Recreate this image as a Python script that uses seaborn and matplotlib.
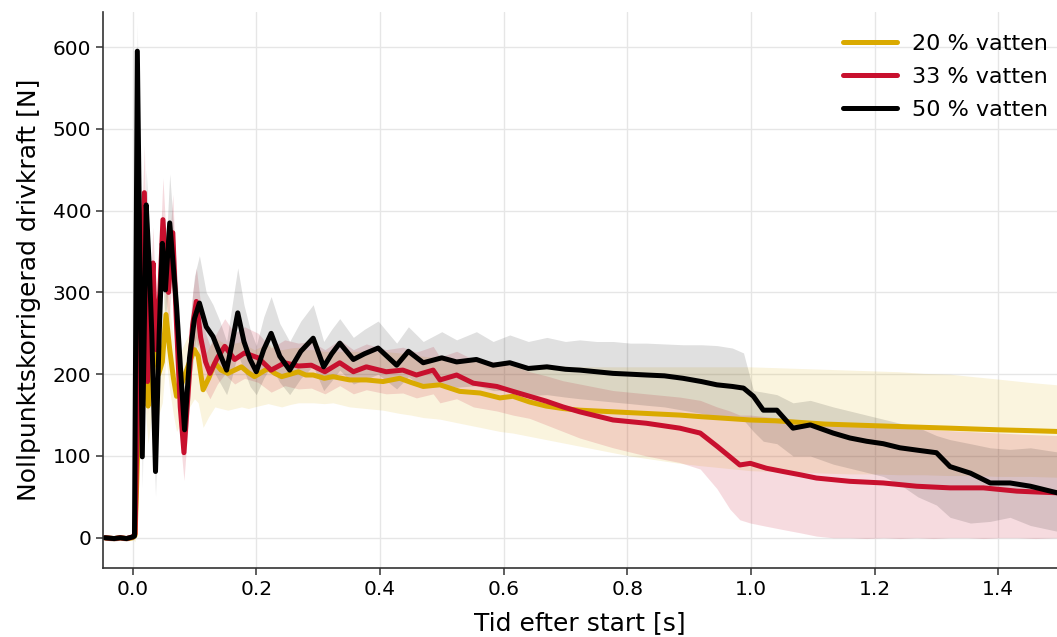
import numpy as np
import pandas as pd
import matplotlib
matplotlib.use("Agg")
import matplotlib.pyplot as plt
import seaborn as sns

# ---- data (time [s], force [N], band low/high) ----
tid_50 = [-0.045, -0.03, -0.02, -0.01, 0.0, 0.003, 0.0076, 0.0156, 0.022, 0.027, 0.031, 0.037,
          0.043, 0.048, 0.053, 0.060, 0.066, 0.071, 0.078, 0.084, 0.092, 0.100, 0.108, 0.119,
          0.130, 0.141, 0.152, 0.160, 0.170, 0.180, 0.190, 0.200, 0.212, 0.224, 0.238, 0.254,
          0.272, 0.292, 0.309, 0.322, 0.335, 0.357, 0.375, 0.397, 0.427, 0.446, 0.470, 0.500,
          0.524, 0.556, 0.583, 0.610, 0.640, 0.670, 0.700, 0.723, 0.750, 0.777, 0.805, 0.831,
          0.860, 0.890, 0.920, 0.945, 0.970, 0.988, 1.004, 1.020, 1.042, 1.068, 1.096, 1.133,
          1.160, 1.187, 1.214, 1.241, 1.270, 1.300, 1.322, 1.355, 1.387, 1.419, 1.452, 1.495]
kraft_50 = [0, -1, 0, -1, 1, 2, 595, 99, 407, 330, 250, 81,
            250, 360, 303, 385, 330, 283, 200, 132, 220, 268, 287, 258,
            246, 225, 205, 235, 275, 240, 218, 203, 230, 250, 222, 205,
            228, 244, 209, 225, 238, 218, 225, 232, 211, 228, 214, 220,
            215, 218, 211, 214, 207, 209, 206, 205, 203, 201, 200, 199,
            198, 195, 191, 187, 185, 183, 173, 156, 156, 134, 138, 128,
            122, 118, 115, 110, 107, 104, 87, 79, 67, 67, 63, 55]
lo_50 = [-3, -4, -3, -4, -2, -1, 560, 60, 360, 290, 210, 50,
         210, 320, 265, 330, 290, 245, 165, 100, 185, 225, 240, 215,
         205, 190, 175, 195, 225, 205, 185, 175, 195, 210, 190, 175,
         195, 210, 180, 192, 205, 188, 193, 200, 182, 197, 184, 188,
         184, 186, 180, 180, 174, 175, 172, 170, 168, 166, 164, 162,
         160, 156, 152, 148, 146, 144, 130, 118, 115, 100, 100, 90,
         85, 80, 75, 65, 50, 40, 25, 18, 20, 25, 15, 8]
hi_50 = [3, 2, 3, 2, 4, 6, 630, 140, 450, 370, 290, 115,
         290, 400, 340, 445, 380, 330, 240, 170, 260, 320, 345, 300,
         285, 265, 240, 280, 330, 285, 255, 235, 270, 295, 262, 240,
         265, 285, 240, 255, 268, 245, 255, 265, 238, 258, 240, 252,
         242, 252, 240, 248, 240, 245, 240, 242, 240, 240, 238, 238,
         237, 236, 236, 235, 232, 226, 180, 178, 175, 165, 168, 160,
         155, 150, 145, 140, 135, 125, 120, 115, 110, 108, 110, 105]

tid_33 = [-0.045, -0.03, -0.02, -0.01, 0.0, 0.004, 0.010, 0.019, 0.024, 0.029, 0.033, 0.038,
          0.044, 0.049, 0.054, 0.058, 0.065, 0.071, 0.077, 0.083, 0.090, 0.097, 0.103, 0.110,
          0.118, 0.125, 0.137, 0.149, 0.165, 0.181, 0.203, 0.224, 0.246, 0.268, 0.289, 0.311,
          0.335, 0.357, 0.378, 0.410, 0.437, 0.459, 0.486, 0.497, 0.524, 0.551, 0.589, 0.615,
          0.642, 0.669, 0.696, 0.723, 0.750, 0.777, 0.804, 0.831, 0.858, 0.885, 0.918, 0.945,
          0.966, 0.982, 0.999, 1.025, 1.052, 1.080, 1.106, 1.133, 1.160, 1.187, 1.214, 1.241,
          1.268, 1.295, 1.322, 1.350, 1.376, 1.403, 1.430, 1.460, 1.495]
kraft_33 = [0, -1, 0, -1, 1, 5, 250, 422, 191, 280, 336, 230,
            300, 389, 330, 300, 373, 260, 160, 104, 180, 260, 289, 245,
            215, 201, 220, 234, 218, 226, 220, 205, 214, 210, 211, 203,
            214, 203, 209, 203, 205, 199, 205, 193, 199, 189, 185, 179,
            173, 167, 160, 154, 149, 144, 142, 140, 137, 134, 128, 112,
            99, 89, 91, 85, 81, 77, 73, 71, 69, 68, 67, 65,
            63, 62, 61, 61, 61, 59, 57, 56, 55]
lo_33 = [-3, -4, -3, -4, -2, 0, 200, 380, 150, 240, 290, 190,
         260, 340, 290, 260, 325, 220, 120, 70, 140, 220, 245, 205,
         180, 170, 188, 200, 188, 195, 190, 178, 186, 182, 183, 176,
         186, 176, 181, 176, 177, 171, 176, 165, 170, 160, 155, 150,
         146, 138, 130, 122, 116, 110, 105, 100, 96, 92, 84, 60,
         35, 22, 18, 14, 10, 6, 2, 0, 0, -1, 0, -1,
         0, -1, 0, 0, -1, 0, 0, -1, 0]
hi_33 = [3, 2, 3, 2, 4, 15, 300, 480, 240, 320, 380, 270,
         350, 440, 370, 345, 420, 300, 200, 140, 220, 300, 330, 285,
         250, 235, 252, 268, 250, 258, 250, 232, 242, 238, 240, 230,
         242, 230, 237, 230, 233, 227, 234, 221, 228, 218, 215, 210,
         203, 198, 192, 188, 184, 180, 178, 176, 174, 172, 168, 160,
         155, 150, 150, 148, 146, 144, 142, 140, 138, 136, 135, 134,
         133, 132, 131, 130, 129, 128, 127, 126, 125]

tid_20 = [-0.045, -0.03, -0.02, -0.01, 0.0, 0.004, 0.010, 0.016, 0.020, 0.025, 0.030, 0.036,
          0.042, 0.048, 0.054, 0.060, 0.066, 0.071, 0.078, 0.085, 0.092, 0.100, 0.106, 0.114,
          0.123, 0.133, 0.143, 0.154, 0.165, 0.176, 0.187, 0.197, 0.208, 0.219, 0.230, 0.241,
          0.255, 0.268, 0.280, 0.292, 0.310, 0.324, 0.351, 0.378, 0.405, 0.432, 0.450, 0.470,
          0.497, 0.529, 0.562, 0.594, 0.615, 0.642, 0.669, 0.696, 0.723, 0.750, 0.777, 0.804,
          0.831, 0.858, 0.885, 0.920, 0.960, 0.999, 1.040, 1.080, 1.120, 1.160, 1.200, 1.240,
          1.280, 1.322, 1.360, 1.400, 1.450, 1.495]
kraft_20 = [0, -1, 0, -1, 0, 3, 150, 240, 210, 161, 190, 240,
            200, 215, 273, 230, 195, 173, 185, 200, 215, 230, 222, 181,
            195, 214, 205, 201, 205, 209, 202, 197, 202, 207, 201, 197,
            200, 203, 199, 199, 195, 197, 193, 193, 191, 195, 190, 185,
            187, 179, 177, 171, 173, 166, 161, 158, 156, 155, 154, 153,
            152, 151, 150, 148, 146, 144, 143, 141, 139, 138, 137, 136,
            135, 134, 133, 132, 131, 130]
lo_20 = [-3, -4, -3, -4, -2, -5, 100, 190, 160, 115, 145, 190,
         150, 165, 220, 180, 150, 130, 140, 150, 160, 170, 165, 135,
         148, 160, 158, 156, 158, 160, 158, 160, 162, 164, 162, 160,
         163, 165, 165, 165, 164, 165, 160, 158, 156, 152, 150, 147,
         145, 140, 135, 130, 128, 124, 120, 116, 112, 108, 104, 100,
         97, 94, 91, 88, 85, 82, 81, 80, 79, 78, 78, 77,
         77, 76, 76, 75, 75, 74]
hi_20 = [3, 2, 3, 2, 4, 10, 200, 290, 260, 210, 235, 290,
         250, 265, 330, 280, 240, 215, 228, 240, 250, 262, 255, 220,
         232, 245, 240, 236, 238, 240, 234, 230, 234, 238, 232, 230,
         232, 233, 230, 230, 228, 228, 228, 228, 228, 226, 224, 222,
         220, 218, 215, 212, 211, 210, 210, 210, 209, 209, 209, 209,
         209, 209, 209, 209, 209, 209, 208, 207, 206, 205, 204, 203,
         201, 200, 197, 194, 190, 187]

serier = ["20 % vatten", "33 % vatten", "50 % vatten"]
farger = ["#DAAA00", "#C8102E", "#000000"]
band_alfa = [0.13, 0.15, 0.12]

df = pd.concat([
    pd.DataFrame({"tid": tid_20, "kraft": kraft_20, "lo": lo_20, "hi": hi_20, "serie": serier[0]}),
    pd.DataFrame({"tid": tid_33, "kraft": kraft_33, "lo": lo_33, "hi": hi_33, "serie": serier[1]}),
    pd.DataFrame({"tid": tid_50, "kraft": kraft_50, "lo": lo_50, "hi": hi_50, "serie": serier[2]}),
], ignore_index=True)

# ---- figure ----
sns.set_style("ticks")
plt.rcParams["text.color"] = "black"
plt.rcParams["axes.labelcolor"] = "black"
plt.rcParams["xtick.color"] = "black"
plt.rcParams["ytick.color"] = "black"

fig = plt.figure(figsize=(10.57, 6.37), dpi=100)
ax = fig.add_axes([0.0974, 0.1083, 0.9026, 0.873])

# spridningsband
for namn, farg, alfa in zip(serier, farger, band_alfa):
    d = df[df["serie"] == namn]
    ax.fill_between(d["tid"], d["lo"], d["hi"], color=farg, alpha=alfa, linewidth=0)

sns.lineplot(data=df, x="tid", y="kraft", hue="serie", hue_order=serier,
             palette=farger, linewidth=3.6, errorbar=None, sort=False, ax=ax)

ax.set_xlim(-0.048, 1.495)
ax.set_ylim(-37, 643)
ax.set_xticks(np.arange(0, 1.41, 0.2))
ax.set_yticks(np.arange(0, 601, 100))
ax.grid(True, color="#e6e6e6", linewidth=1.0)
ax.set_axisbelow(True)

sns.despine(ax=ax)
for s in ["left", "bottom"]:
    ax.spines[s].set_color("#333333")
    ax.spines[s].set_linewidth(1.2)
ax.tick_params(axis="both", labelsize=14.5, length=5, width=1.1, color="#333333",
               labelcolor="black")

ax.set_xlabel("Tid efter start [s]", fontsize=18, labelpad=9)
ax.set_ylabel("Nollpunktskorrigerad drivkraft [N]", fontsize=18, labelpad=8)

leg = ax.legend(loc="upper right", bbox_to_anchor=(1.007, 0.989), frameon=False,
                fontsize=16, handlelength=2.4, labelspacing=0.6, borderaxespad=0.3,
                handletextpad=0.7)
for linje in leg.get_lines():
    linje.set_linewidth(3.6)

fig.savefig("out.png", dpi=100)
